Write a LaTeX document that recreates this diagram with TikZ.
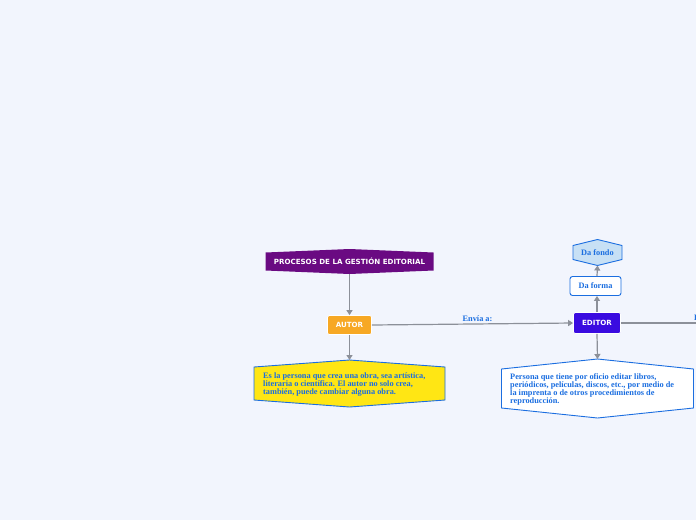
\documentclass[tikz,border=0pt]{standalone}
\usepackage{fontspec}
\setmainfont{Liberation Serif}
\newfontfamily\titlefont{DejaVu Sans}
\usetikzlibrary{arrows.meta,backgrounds}
\pgfdeclarelayer{bottom}
\pgfsetlayers{bottom,background,main}
\definecolor{bgc}{HTML}{F2F5FD}
\definecolor{purp}{HTML}{6A0A82}
\definecolor{orng}{HTML}{F7A824}
\definecolor{yell}{HTML}{FFE614}
\definecolor{edblue}{HTML}{3A0BE0}
\definecolor{txtblue}{HTML}{1B6EE0}
\definecolor{lblue}{HTML}{C7E0F5}
\definecolor{linegray}{HTML}{8C9099}
\tikzset{
  conn/.style={draw=linegray, line width=1.2pt, -{Triangle[length=5pt,width=6pt]}},
  plainconn/.style={draw=linegray, line width=1.2pt},
  hexnode/.style={inner sep=0pt, outer sep=0pt},
  boxtitle/.style={font=\titlefont\bfseries\fontsize{7.1}{8}\selectfont, text=white},
  desc/.style={font=\bfseries\fontsize{8.3}{8}\selectfont, text=txtblue, align=left, inner sep=0pt},
  lbl/.style={font=\bfseries\fontsize{8.3}{9}\selectfont, text=txtblue}
}
\newcommand{\hexpath}[3]{% node, dy, style
  \begin{scope}[on background layer]
  \path[#3] ([yshift=-#2]#1.north west) -- (#1.north) -- ([yshift=-#2]#1.north east)
    -- ([yshift=#2]#1.south east) -- (#1.south) -- ([yshift=#2]#1.south west) -- cycle;
  \end{scope}}
\begin{document}
\begin{tikzpicture}[x=1pt,y=-1pt]
\begin{pgfonlayer}{bottom}
\fill[bgc] (0,0) rectangle (696,520);
\end{pgfonlayer}
\clip (0,0) rectangle (696,520);
% title
\node[hexnode, minimum width=168pt, minimum height=25pt, boxtitle] (title) at (349.5,261.5) {PROCESOS DE LA GESTIÓN EDITORIAL};
\hexpath{title}{3.5pt}{fill=purp}
% autor
\node[rounded corners=2pt, fill=orng, draw=white, line width=0.8pt, minimum width=44pt, minimum height=19pt, boxtitle] (autor) at (349.5,325) {AUTOR};
% autor description
\node[hexnode, minimum width=191pt, minimum height=47pt] (adesc) at (349.5,383.5) {};
\hexpath{adesc}{7pt}{fill=yell, draw=txtblue, line width=0.9pt}
\node[desc, anchor=north west] (adesctext) at (263,373) {Es la persona que crea una obra, sea artística,\\literaria o científica. El autor no solo crea,\\también, puede cambiar alguna obra.};
% editor
\node[rounded corners=2pt, fill=edblue, draw=white, line width=0.8pt, minimum width=47pt, minimum height=21pt, boxtitle] (editor) at (597,323) {EDITOR};
% da forma
\node[rounded corners=2.5pt, fill=white, draw=txtblue, line width=0.9pt, minimum width=51pt, minimum height=19pt, lbl] (forma) at (595.5,286) {Da forma};
% da fondo
\node[hexnode, minimum width=49pt, minimum height=26pt, lbl] (fondo) at (597.5,252.5) {Da fondo};
\hexpath{fondo}{6pt}{fill=lblue, draw=txtblue, line width=0.9pt}
% editor description
\node[hexnode, minimum width=192pt, minimum height=59pt] (edesc) at (597.5,388.5) {};
\hexpath{edesc}{10pt}{fill=white, draw=txtblue, line width=0.9pt}
\node[desc, anchor=north west] (edesctext) at (510,373) {Persona que tiene por oficio editar libros,\\periódicos, películas, discos, etc., por medio de\\la imprenta o de otros procedimientos de\\reproducción.};
% connectors
\draw[conn] (title.south) -- (autor.north);
\draw[conn] (autor.south) -- (adesc.north);
\draw[conn] (autor.east) -- node[lbl, above=-1.5pt, pos=0.525] (envia) {Envía a:} (editor.west);
\draw[conn] (editor.north) -- ([xshift=1.5pt]forma.south);
\draw[conn] ([xshift=1.5pt]forma.north) -- (fondo.south);
\draw[conn] (editor.south) -- (edesc.north);
\coordinate (rightend) at (720,323);
\draw[plainconn] (editor.east) -- (rightend);
\node[lbl, anchor=south west, inner sep=1pt] (rlabel) at (693,321.5) {Es};
\end{tikzpicture}
\end{document}
